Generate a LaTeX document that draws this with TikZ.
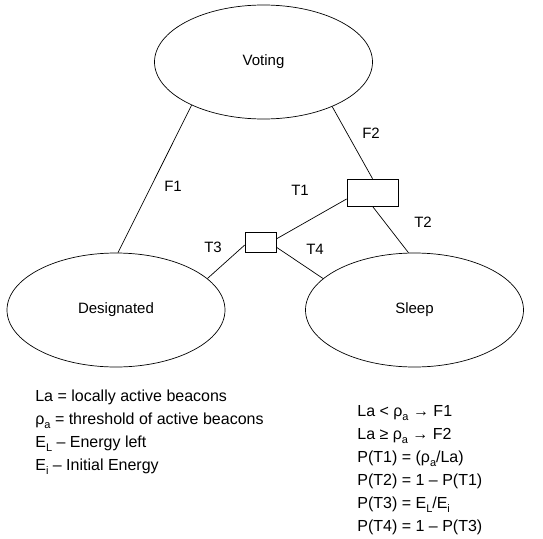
\documentclass[tikz,border=0pt]{standalone}
\usepackage{fontspec}
\setmainfont{Liberation Sans}
\usepackage{tikz}
\usetikzlibrary{positioning, shapes.geometric}

\newcommand{\lowsub}[1]{\raisebox{-0.45ex}{\fontsize{11}{11}\selectfont #1}}

\tikzset{
    phase/.style={draw, ellipse, minimum width=218pt, minimum height=114pt, inner sep=0pt, font=\fontsize{15}{18}\selectfont},
    switchbox/.style={draw, rectangle, inner sep=0pt},
    lbl/.style={font=\fontsize{15}{18}\selectfont, inner sep=0pt},
    legend/.style={align=left, anchor=north west, inner sep=0pt, font=\fontsize{16}{23}\selectfont}
}

\begin{document}
\begin{tikzpicture}[x=1pt, y=-1pt, line width=0.7pt]
    \useasboundingbox (0,0) rectangle (543,538);

    % states
    \node[phase] (voting) at (263.5, 62) {Voting};
    \node[phase] (designated) at (116, 310) {Designated};
    \node[phase] (sleep) at (414.5, 310) {Sleep};

    % decision boxes
    \node[switchbox, minimum width=51pt, minimum height=27pt] (bigbox) at (372.5, 192.5) {};
    \node[switchbox, minimum width=31pt, minimum height=20pt] (smallbox) at (260.5, 242) {};

    % transitions
    \draw (voting.211) -- (designated.88);
    \draw (voting.327.7) -- (bigbox.north);
    \draw (bigbox.194) -- (smallbox.11);
    \draw (bigbox.south) -- (sleep.96.5);
    \draw (smallbox.191) -- (designated.19);
    \draw (smallbox.342) -- (sleep.161.5);

    % transition labels
    \node[lbl] (f1) at (173, 186) {F1};
    \node[lbl] (f2) at (371, 133) {F2};
    \node[lbl] (t1) at (300, 190) {T1};
    \node[lbl] (t2) at (423, 222) {T2};
    \node[lbl] (t3) at (213, 247) {T3};
    \node[lbl] (t4) at (315, 249) {T4};

    % legend
    \node[legend] (defs) at (35, 389.5) {La = locally active beacons\\
        ρ\lowsub{a} = threshold of active beacons\\
        E\lowsub{L} – Energy left\\
        E\lowsub{i} – Initial Energy};
    \node[legend] (rules) at (357, 405.5) {La < ρ\lowsub{a} → F1\\
        La ≥ ρ\lowsub{a} → F2\\
        P(T1) = (ρ\lowsub{a}/La)\\
        P(T2) = 1 – P(T1)\\
        P(T3) = E\lowsub{L}/E\lowsub{i}\\
        P(T4) = 1 – P(T3)};
\end{tikzpicture}
\end{document}
